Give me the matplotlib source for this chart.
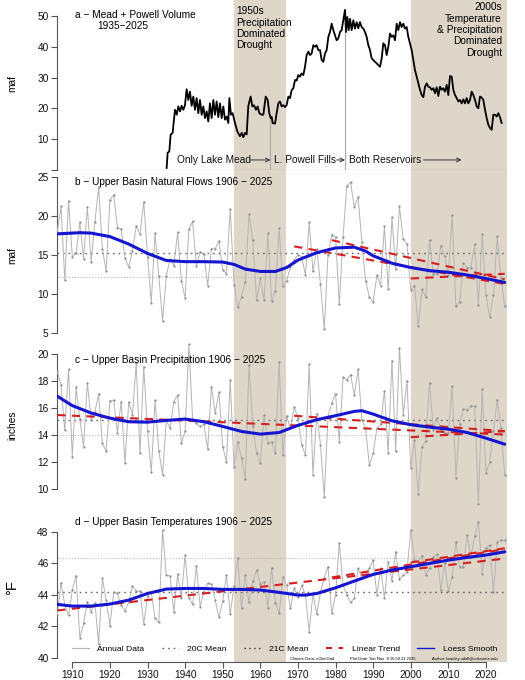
import numpy as np
import matplotlib
matplotlib.use('Agg')
import matplotlib.pyplot as plt
from matplotlib.lines import Line2D

plt.rcParams['font.family'] = ['Liberation Sans', 'DejaVu Sans']

# ---------------- data ----------------
years = np.arange(1906, 2026)

flow = [18.0, 21.2, 11.8, 21.9,
        14.8, 15.2, 19.2, 14.5, 21.1, 14.1, 19.2, 23.7, 15.8, 12.9,
        22.0, 22.7, 18.5, 18.3, 14.6, 13.5, 15.5, 18.7, 17.7, 21.8,
        14.8, 8.9, 17.8, 12.3, 6.6, 12.3, 14.5, 13.6, 17.9, 11.7,
        9.5, 18.3, 19.3, 13.6, 15.4, 15.1, 11.1, 15.8, 15.8, 16.8,
        13.1, 12.6, 20.9, 11.2, 8.3, 9.7, 11.6, 20.2, 16.9, 9.2,
        12.0, 9.2, 17.8, 9.1, 10.4, 18.4, 11.0, 11.7, 13.5, 14.4,
        15.0, 14.8, 12.4, 19.2, 12.9, 15.8, 11.3, 5.5, 15.0, 17.6,
        17.3, 8.7, 17.3, 23.8, 24.3, 21.1, 22.4, 16.6, 11.7, 9.6,
        9.0, 12.4, 11.1, 18.7, 10.6, 19.8, 13.2, 21.2, 17.0, 16.4,
        10.5, 11.1, 5.9, 10.6, 9.6, 16.9, 12.6, 12.6, 16.2, 14.9,
        12.4, 20.1, 8.5, 9.0, 14.0, 13.4, 13.4, 16.4, 8.6, 17.7,
        9.9, 7.1, 9.9, 17.4, 12.0, 8.5]

precip = [18.75, 17.75, 14.35, 18.9,
          12.4, 17.55, 15.2, 13.15, 17.9, 15.15, 15.7, 17.05, 13.4, 12.8,
          16.55, 16.6, 14.2, 16.5, 11.9, 16.45, 15.5, 19.4, 12.65, 19.1,
          14.3, 11.25, 16.6, 12.85, 11.05, 15.1, 14.5, 16.5, 17.0, 13.4,
          14.3, 20.75, 15.15, 14.9, 14.65, 14.8, 12.95, 17.6, 15.65, 17.2,
          13.15, 12.0, 18.1, 11.65, 13.5, 12.3, 10.75, 19.25, 14.65, 12.65,
          11.9, 15.5, 13.4, 13.5, 12.65, 19.45, 12.55, 15.45, 14.5, 16.1,
          15.3, 13.3, 12.5, 19.3, 11.05, 15.6, 13.3, 9.4, 15.4, 16.4,
          17.1, 13.5, 18.3, 18.1, 18.5, 17.0, 18.9, 15.15, 14.5, 11.75,
          12.65, 14.5, 14.8, 17.3, 12.65, 19.55, 12.8, 20.5, 15.5, 18.05,
          11.55, 13.65, 9.6, 13.1, 13.6, 17.9, 14.4, 15.3, 14.4, 14.15,
          14.2, 17.65, 10.85, 14.8, 15.95, 15.9, 16.2, 16.15, 8.9, 17.4,
          11.2, 12.0, 14.3, 16.65, 14.5, 11.05]

temp = [42.7, 44.76, 43.35, 42.7,
        44.3, 45.2, 41.27, 42.18, 43.56, 42.92, 43.5, 40.85, 45.04, 43.66,
        42.03, 44.15, 44.08, 43.34, 42.96, 43.56, 44.57, 44.23, 44.23, 42.14,
        43.94, 44.19, 42.5, 42.24, 48.1, 45.25, 45.2, 42.92, 45.3, 43.77,
        46.52, 43.81, 43.39, 45.84, 43.24, 44.19, 44.72, 44.68, 43.66, 42.56,
        43.62, 45.25, 42.75, 44.55, 46.35, 43.13, 45.25, 43.51, 44.87, 45.57,
        44.66, 44.83, 43.17, 45.71, 43.5, 42.82, 45.1, 44.6, 43.13, 44.4,
        43.87, 44.6, 44.0, 41.65, 44.08, 42.77, 44.15, 45.08, 45.78, 42.82,
        43.98, 47.3, 44.6, 43.98, 43.51, 43.77, 45.67, 45.04, 45.25, 45.67,
        46.2, 43.98, 45.67, 43.81, 46.1, 44.87, 46.73, 45.0, 45.25, 45.46,
        48.1, 46.2, 46.1, 46.48, 45.25, 45.67, 46.41, 46.56, 44.3, 45.99,
        44.25, 45.14, 47.37, 45.78, 45.78, 47.8, 46.41, 47.7, 48.63, 45.35,
        46.94, 47.15, 44.15, 47.37, 47.47, 47.45]

# loess smooth
flow_sm_yr = [1906, 1912, 1915, 1920, 1925, 1930, 1935, 1940, 1945, 1950, 1953, 1956,
              1960, 1964, 1967, 1970, 1975, 1980, 1985, 1988, 1990, 1995, 2000, 2005,
              2010, 2015, 2020, 2025]
flow_sm = [17.7, 17.85, 17.8, 17.35, 16.4, 15.2, 14.3, 14.15, 14.15, 14.1, 13.8, 13.2,
           12.9, 12.9, 13.4, 14.35, 15.3, 15.9, 16.0, 15.5, 14.9, 13.95, 13.4, 13.0,
           12.8, 12.45, 12.0, 11.5]
precip_sm_yr = [1906, 1910, 1915, 1920, 1925, 1930, 1935, 1940, 1945, 1950, 1955, 1960,
                1965, 1970, 1975, 1980, 1985, 1987, 1990, 1995, 2000, 2005, 2010, 2015,
                2020, 2025]
precip_sm = [16.9, 16.2, 15.65, 15.27, 15.0, 14.97, 15.1, 15.2, 15.0, 14.65, 14.28, 14.08,
             14.2, 14.73, 15.15, 15.45, 15.77, 15.82, 15.57, 15.07, 14.78, 14.6, 14.45,
             14.2, 13.78, 13.33]
temp_sm_yr = [1906, 1910, 1915, 1920, 1925, 1930, 1935, 1940, 1945, 1950, 1955, 1960,
              1965, 1970, 1972, 1975, 1980, 1985, 1990, 1995, 2000, 2005, 2010, 2015,
              2020, 2025]
temp_sm = [43.39, 43.28, 43.28, 43.41, 43.66, 44.08, 44.36, 44.4, 44.4, 44.34, 44.34, 44.3,
           44.15, 43.98, 43.98, 44.08, 44.44, 44.87, 45.29, 45.57, 45.78, 45.99, 46.2,
           46.37, 46.52, 46.73]

# linear trends: start year, end year, start value, end value
flow_tr_y0 = [1969, 1979, 2000]
flow_tr_y1 = [2025, 2025, 2025]
flow_tr_v0 = [16.1, 16.9, 12.0]
flow_tr_v1 = [11.3, 11.9, 12.6]
precip_tr_y0 = [1906, 1969, 2000]
precip_tr_y1 = [2025, 2025, 2025]
precip_tr_v0 = [15.5, 15.45, 13.85]
precip_tr_v1 = [14.05, 14.3, 14.3]
temp_tr_y0 = [1906, 1979, 2000]
temp_tr_y1 = [2025, 2025, 2025]
temp_tr_v0 = [43.0, 45.1, 46.05]
temp_tr_v1 = [46.3, 46.9, 46.95]

# 20th / 21st century means
flow_mean20, flow_mean21 = 15.2, 12.2
precip_mean20, precip_mean21 = 15.15, 14.0
temp_mean20, temp_mean21 = 44.19, 46.35

# Mead + Powell volume
vol_yr = [1935.09, 1935.35, 1935.80, 1936.15, 1936.68, 1937.30, 1937.75, 1938.19, 1938.64,
          1939.08, 1939.52, 1939.96, 1940.41, 1940.85, 1941.29, 1941.74, 1942.18, 1942.62,
          1943.07, 1943.51, 1943.95, 1944.40, 1944.84, 1945.28, 1945.73, 1946.17, 1946.61,
          1947.06, 1947.50, 1947.94, 1948.39, 1948.83, 1949.27, 1949.72, 1950.16, 1950.60,
          1951.05, 1951.49, 1951.76, 1952.20, 1952.64, 1953.26, 1953.88, 1954.59, 1955.04,
          1955.48, 1955.92, 1956.37, 1956.81, 1957.43, 1957.87, 1958.32, 1958.85, 1959.29,
          1959.74, 1960.36, 1960.80, 1961.42, 1961.95, 1962.39, 1962.75, 1963.01, 1963.28,
          1963.90, 1964.34, 1964.79, 1965.23, 1965.67, 1966.12, 1966.56, 1967.00, 1967.45,
          1967.89, 1968.33, 1968.78, 1969.22, 1969.66, 1970.11, 1970.55, 1970.99, 1971.44,
          1971.88, 1972.32, 1972.77, 1973.21, 1973.65, 1974.10, 1974.54, 1974.98, 1975.43,
          1975.87, 1976.31, 1976.76, 1977.20, 1977.64, 1978.09, 1978.53, 1978.97, 1979.41,
          1979.86, 1980.30, 1980.74, 1981.19, 1981.63, 1982.07, 1982.52, 1982.78, 1983.14,
          1983.49, 1983.85, 1984.29, 1984.73, 1985.18, 1985.62, 1986.06, 1986.51, 1986.95,
          1987.39, 1987.84, 1988.28, 1988.72, 1989.17, 1989.61, 1990.05, 1990.50, 1990.94,
          1991.38, 1991.83, 1992.27, 1992.71, 1993.16, 1993.60, 1994.04, 1994.49, 1994.93,
          1995.37, 1995.82, 1996.26, 1996.70, 1997.15, 1997.59, 1998.03, 1998.48, 1998.92,
          1999.36, 1999.80, 2000.25, 2000.69, 2001.13, 2001.58, 2002.02, 2002.46, 2002.91,
          2003.35, 2003.79, 2004.24, 2004.68, 2005.12, 2005.57, 2006.01, 2006.45, 2006.90,
          2007.34, 2007.78, 2008.23, 2008.67, 2009.11, 2009.56, 2010.00, 2010.44, 2010.89,
          2011.33, 2011.77, 2012.22, 2012.66, 2013.10, 2013.55, 2013.99, 2014.43, 2014.88,
          2015.32, 2015.76, 2016.21, 2016.65, 2017.09, 2017.54, 2017.98, 2018.42, 2018.87,
          2019.31, 2019.75, 2020.20, 2020.64, 2021.08, 2021.52, 2021.97, 2022.41, 2022.85,
          2023.30, 2023.74, 2024.18]
vol = [0.6, 5.5, 6.0, 11.4, 12.0, 19.5, 17.9, 20.6, 19.0,
       20.8, 19.5, 21.0, 26.2, 22.7, 25.4, 20.8, 23.8, 19.5,
       23.3, 18.4, 22.7, 17.9, 20.6, 16.8, 19.0, 15.7, 21.6,
       16.8, 22.7, 17.9, 22.2, 17.1, 21.6, 16.8, 20.6, 16.3,
       17.3, 15.2, 23.3, 17.9, 18.4, 15.2, 12.5, 10.9, 12.0,
       10.6, 12.0, 11.5, 20.8, 23.8, 20.6, 21.0, 19.5, 20.6,
       18.4, 17.9, 17.9, 23.8, 22.7, 18.4, 16.8, 17.2, 15.2,
       15.0, 18.4, 21.6, 22.2, 20.6, 21.0, 20.4, 21.0, 23.8,
       23.3, 25.9, 26.5, 29.2, 29.0, 30.8, 30.3, 31.3, 30.8,
       33.5, 37.3, 38.4, 37.3, 37.8, 40.5, 40.0, 40.5, 38.9,
       38.9, 35.7, 35.1, 37.8, 38.9, 43.2, 44.8, 47.5, 45.4,
       43.7, 42.1, 42.7, 44.8, 45.4, 48.6, 52.0, 44.8, 49.7,
       45.4, 49.1, 45.4, 48.6, 45.9, 48.0, 46.0, 48.0, 46.4,
       45.9, 44.8, 43.2, 40.5, 38.9, 36.2, 35.7, 35.1, 34.6,
       34.0, 33.5, 36.2, 41.1, 40.5, 37.3, 40.0, 44.3, 43.2,
       43.7, 42.1, 47.5, 45.4, 48.0, 46.4, 47.5, 45.9, 46.4,
       43.2, 41.1, 38.9, 35.7, 32.4, 30.3, 28.1, 26.0, 24.3,
       23.6, 27.0, 28.1, 27.0, 26.8, 26.0, 26.5, 24.9, 26.8,
       24.0, 27.0, 26.0, 26.5, 25.4, 27.6, 24.3, 30.5, 30.3,
       26.0, 24.3, 23.3, 22.2, 22.7, 21.6, 22.9, 21.6, 23.3,
       21.6, 22.7, 25.4, 24.3, 22.7, 20.6, 20.0, 23.8, 23.5,
       22.7, 19.5, 16.8, 14.6, 13.6, 13.0, 17.9, 17.9, 17.3,
       18.4, 17.1, 15.2]

milestone_yr = [1962.6, 1982.5]
phase_labels = ['Only Lake Mead', 'L. Powell Fills', 'Both Reservoirs']
phase_text_x = [1937.8, 1963.6, 1983.7]
phase_arrow_x0 = [1957.4, 1980.3, 2003.4]
phase_arrow_x1 = [1962.7, 1982.5, 2013.5]
phase_y = 3.2

drought_periods = [(1953.0, 1966.9), (2000.0, 2026.0)]

# ---------------- style ----------------
SHADE = '#DDD6C9'
GRAY_LINE = '#B4B4B4'
GRAY_PT = '#8E8E8E'
BLUE = '#1515D0'
RED = '#D42020'
FS = 7.3

W, H = 525, 680
LPX, RPX = 57, 507
XLIM = (1905.93, 2025.6)

fig = plt.figure(figsize=(5.25, 6.8), dpi=100)


def box(top, bottom):
    return [LPX / W, 1 - bottom / H, (RPX - LPX) / W, (bottom - top) / H]


def ftext(x, y, s, **kw):
    return fig.text(x / W, 1 - y / H, s, **kw)


axa = fig.add_axes(box(0, 170))
axb = fig.add_axes(box(170, 343))
axc = fig.add_axes(box(343, 505))
axd = fig.add_axes(box(505, 662))


def base(ax, ylim, yticks, ylabels=None):
    ax.set_xlim(XLIM)
    ax.set_ylim(ylim)
    ax.set_facecolor('none')
    for p in drought_periods:
        ax.axvspan(p[0], p[1], color=SHADE, lw=0, zorder=0)
    for s in ['top', 'right', 'bottom']:
        ax.spines[s].set_visible(False)
    ax.spines['left'].set_bounds(yticks[0], yticks[-1])
    ax.spines['left'].set_color('#555555')
    ax.spines['left'].set_linewidth(0.8)
    ax.set_yticks(yticks)
    if ylabels is not None:
        ax.set_yticklabels(ylabels)
    ax.tick_params(axis='y', direction='out', length=4, width=0.8, color='#555555',
                   labelsize=FS, pad=2, labelcolor='#111111')
    ax.tick_params(axis='x', bottom=False, labelbottom=False)


def annual_panel(ax, vals, sm_yr, sm, tr_y0, tr_y1, tr_v0, tr_v1, m20, m21):
    ax.axhline(m20, color='#666666', lw=1.0, ls=(0, (1.2, 2.8)), zorder=2)
    ax.axhline(m21, color='#B8B8B8', lw=0.8, ls=(0, (1, 1.6)), zorder=2)
    ax.plot(years, vals, color=GRAY_LINE, lw=0.7, marker='o', ms=1.6,
            mfc=GRAY_PT, mec='none', zorder=3)
    for a0, a1, v0, v1 in zip(tr_y0, tr_y1, tr_v0, tr_v1):
        ax.plot([a0, a1], [v0, v1], color=RED, lw=1.5, ls=(0, (4, 3)), zorder=4)
    ax.plot(sm_yr, sm, color=BLUE, lw=2.2, zorder=5, solid_capstyle='round')


# ---- panel a ----
base(axa, (-0.07, 55.2), [0, 10, 20, 30, 40, 50], ['', '10', '20', '30', '40', '50'])
axa.axhline(0, color='#555555', lw=0.8, zorder=2)
ms_top = np.interp(milestone_yr, vol_yr, vol)
axa.vlines(milestone_yr, 0, ms_top, color='#AAAAAA', lw=0.8, zorder=2)
axa.plot(vol_yr, vol, color='black', lw=1.3, zorder=4)
for lab, tx, a0, a1 in zip(phase_labels, phase_text_x, phase_arrow_x0, phase_arrow_x1):
    axa.text(tx, phase_y, lab, fontsize=FS, ha='left', va='center', color='#111111', zorder=6)
    axa.annotate('', xy=(a1, phase_y), xytext=(a0, phase_y),
                 arrowprops=dict(arrowstyle='->', lw=0.7, color='#333333',
                                 shrinkA=0, shrinkB=0, mutation_scale=7), zorder=6)

# ---- panel b ----
base(axb, (3.76, 25.86), [5, 10, 15, 20, 25])
annual_panel(axb, flow, flow_sm_yr, flow_sm, flow_tr_y0, flow_tr_y1, flow_tr_v0, flow_tr_v1,
             flow_mean20, flow_mean21)

# ---- panel c ----
base(axc, (8.81, 20.855), [10, 12, 14, 16, 18, 20])
annual_panel(axc, precip, precip_sm_yr, precip_sm, precip_tr_y0, precip_tr_y1,
             precip_tr_v0, precip_tr_v1, precip_mean20, precip_mean21)

# ---- panel d ----
base(axd, (39.73, 49.7), [40, 42, 44, 46, 48])
annual_panel(axd, temp, temp_sm_yr, temp_sm, temp_tr_y0, temp_tr_y1, temp_tr_v0, temp_tr_v1,
             temp_mean20, temp_mean21)
axd.spines['bottom'].set_visible(True)
axd.spines['bottom'].set_bounds(1910, 2020)
axd.spines['bottom'].set_color('#555555')
axd.spines['bottom'].set_linewidth(0.8)
axd.set_xticks(range(1910, 2021, 10))
axd.tick_params(axis='x', bottom=True, labelbottom=True, direction='out', length=4,
                width=0.8, color='#555555', labelsize=FS, pad=2, labelcolor='#111111')

handles = [Line2D([], [], color=GRAY_LINE, lw=0.8),
           Line2D([], [], color='#666666', lw=1.0, ls=(0, (1.2, 2.8))),
           Line2D([], [], color='#333333', lw=1.0, ls=(0, (1, 2.5))),
           Line2D([], [], color=RED, lw=1.5, ls=(0, (3, 3))),
           Line2D([], [], color=BLUE, lw=1.0)]
labels = ['Annual Data', '20C Mean', '21C Mean', 'Linear Trend', 'Loess Smooth']
axd.legend(handles, labels, loc='center left', bbox_to_anchor=(0.033, 0.083), ncol=5,
           frameon=False, fontsize=6.1, handlelength=2.0, handletextpad=1.0,
           columnspacing=2.05, borderpad=0, borderaxespad=0)

# ---- texts ----
ftext(75, 15, 'a \u2212 Mead + Powell Volume', fontsize=FS, ha='left', va='center')
ftext(97, 26, '1935\u22122025', fontsize=FS, ha='left', va='center')
ftext(75, 182.3, 'b \u2212 Upper Basin Natural Flows 1906 \u2212 2025', fontsize=FS, ha='left', va='center')
ftext(75, 360, 'c \u2212 Upper Basin Precipitation 1906 \u2212 2025', fontsize=FS, ha='left', va='center')
ftext(75, 522.3, 'd \u2212 Upper Basin Temperatures 1906 \u2212 2025', fontsize=FS, ha='left', va='center')

ftext(236, 6.5, '1950s\nPrecipitation\nDominated\nDrought', fontsize=FS, ha='left', va='top',
      linespacing=1.16)
ftext(502, 2.5, '2000s\nTemperature\n& Precipitation\nDominated\nDrought', fontsize=FS,
      ha='right', va='top', multialignment='right', linespacing=1.16)

ftext(12, 83, 'maf', fontsize=FS, rotation=90, ha='center', va='center')
ftext(12, 255, 'maf', fontsize=FS, rotation=90, ha='center', va='center')
ftext(12, 425, 'inches', fontsize=FS, rotation=90, ha='center', va='center')
ftext(12, 588, '\u00b0F', fontsize=10.5, rotation=90, ha='center', va='center')

ftext(290, 659, 'Climate Data: nClimGrid', fontsize=3, ha='left', va='center')
ftext(350, 659, 'Plot Date: Sat Nov  8 16:50:11 2025', fontsize=3, ha='left', va='center')
ftext(432, 659, 'Author: bradley.udall@colostate.edu', fontsize=3, ha='left', va='center')

fig.savefig('out.png', dpi=100)
